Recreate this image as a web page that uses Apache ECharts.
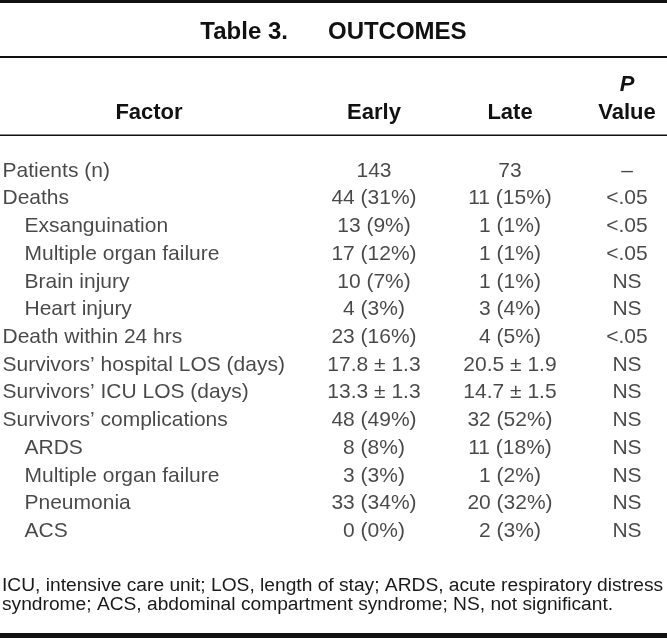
<!DOCTYPE html>
<html>
<head>
<meta charset="utf-8">
<script src="https://cdn.jsdelivr.net/npm/echarts@6/dist/echarts.min.js"></script>
<style>html,body{margin:0;padding:0;background:#fff;}#c{width:667px;height:638px;}</style>
</head>
<body>
<div id="c"></div>
<script>
var factors = ['Patients (n)','Deaths','Exsanguination','Multiple organ failure','Brain injury','Heart injury','Death within 24 hrs','Survivors\u2019 hospital LOS (days)','Survivors\u2019 ICU LOS (days)','Survivors\u2019 complications','ARDS','Multiple organ failure','Pneumonia','ACS'];
var indent = [0,0,1,1,1,1,0,0,0,0,1,1,1,1];
var early = ['143','44 (31%)','13 (9%)','17 (12%)','10 (7%)','4 (3%)','23 (16%)','17.8 \u00b1 1.3','13.3 \u00b1 1.3','48 (49%)','8 (8%)','3 (3%)','33 (34%)','0 (0%)'];
var late = ['73','11 (15%)','1 (1%)','1 (1%)','1 (1%)','3 (4%)','4 (5%)','20.5 \u00b1 1.9','14.7 \u00b1 1.5','32 (52%)','11 (18%)','1 (2%)','20 (32%)','2 (3%)'];
var pval = ['\u2013','<.05','<.05','<.05','NS','NS','<.05','NS','NS','NS','NS','NS','NS','NS'];
var headers = ['Factor','Early','Late','Value'];
var titleText = 'Table 3.      OUTCOMES';
var footnote = 'ICU, intensive care unit; LOS, length of stay; ARDS, acute respiratory distress\nsyndrome; ACS, abdominal compartment syndrome; NS, not significant.';

// layout (x positions in axis units = pixels)
var X_FACTOR = 2, X_INDENT = 24, X_EARLY = 374, X_LATE = 510, X_P = 627, X_FACTOR_HEAD = 149;
var BODY_FONT = 'Liberation Sans, Arial, sans-serif';
var BODY_SIZE = 21;
var TXT = '#1a1a1a';

function colSeries(values, xFn, pos) {
  return {
    type: 'scatter',
    symbolSize: 1,
    itemStyle: { color: 'rgba(0,0,0,0)' },
    silent: true,
    data: values.map(function (v, i) { return [xFn(i), i]; }),
    label: {
      show: true,
      position: pos,
      distance: 0,
      formatter: function (p) { return values[p.dataIndex]; },
      fontFamily: BODY_FONT,
      fontSize: BODY_SIZE,
      color: TXT
    }
  };
}

var chart = echarts.init(document.getElementById('c'), null, { renderer: 'canvas' });
var headFont = 'bold 22px Liberation Sans, Arial, sans-serif';
chart.setOption({
  animation: false,
  backgroundColor: '#fff',
  title: {
    text: titleText, left: 'center', top: 15,
    textStyle: { fontFamily: 'Liberation Sans, Arial, sans-serif', fontWeight: 'bold', fontSize: 24, color: '#111' }
  },
  grid: { left: 0, right: 0, top: 157, height: 388.2 },
  xAxis: { type: 'value', min: 0, max: 667, show: false },
  yAxis: { type: 'category', inverse: true, data: factors.map(function (f, i) { return String(i); }), show: false },
  series: [
    colSeries(factors, function (i) { return indent[i] ? X_INDENT : X_FACTOR; }, 'right'),
    colSeries(early, function () { return X_EARLY; }, 'inside'),
    colSeries(late, function () { return X_LATE; }, 'inside'),
    colSeries(pval, function () { return X_P; }, 'inside')
  ],
  graphic: [
    { type: 'rect', shape: { x: 0, y: 0, width: 667, height: 3 }, style: { fill: '#111' } },
    { type: 'rect', shape: { x: 0, y: 56, width: 667, height: 2 }, style: { fill: '#111' } },
    { type: 'rect', shape: { x: 0, y: 134.5, width: 667, height: 1.6 }, style: { fill: '#111' } },
    { type: 'rect', shape: { x: 0, y: 633, width: 667, height: 5 }, style: { fill: '#111' } },
    { type: 'text', style: { text: headers[0], x: X_FACTOR_HEAD, y: 113, textAlign: 'center', textVerticalAlign: 'middle', font: headFont, fill: '#111' } },
    { type: 'text', style: { text: headers[1], x: X_EARLY, y: 113, textAlign: 'center', textVerticalAlign: 'middle', font: headFont, fill: '#111' } },
    { type: 'text', style: { text: headers[2], x: X_LATE, y: 113, textAlign: 'center', textVerticalAlign: 'middle', font: headFont, fill: '#111' } },
    { type: 'text', style: { text: 'P', x: X_P, y: 85, textAlign: 'center', textVerticalAlign: 'middle', font: 'italic ' + headFont, fill: '#111' } },
    { type: 'text', style: { text: headers[3], x: X_P, y: 113, textAlign: 'center', textVerticalAlign: 'middle', font: headFont, fill: '#111' } },
    { type: 'text', style: { text: footnote, x: 2, y: 576.5, textAlign: 'left', textVerticalAlign: 'top', font: '19.2px Liberation Sans, Arial, sans-serif', lineHeight: 19, fill: TXT } }
  ]
});
</script>
</body>
</html>
